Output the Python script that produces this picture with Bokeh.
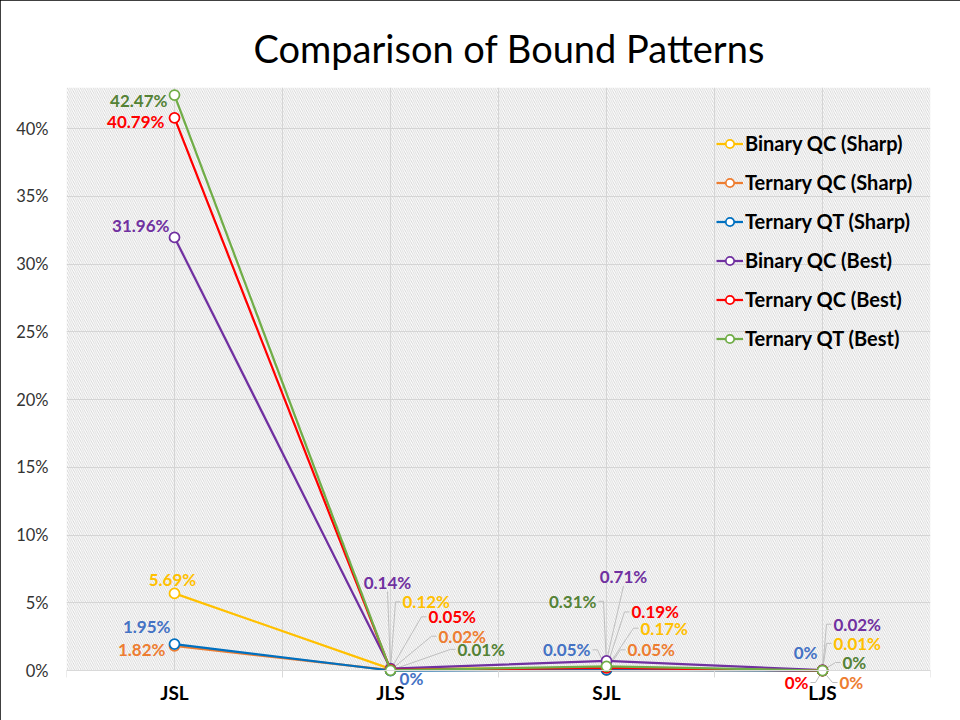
from bokeh.plotting import figure
from bokeh.models import (Range1d, FixedTicker, PrintfTickFormatter, BoxAnnotation,
                          ColumnDataSource, LabelSet)
from bokeh.core.properties import value
from bokeh.embed import file_html
from bokeh.resources import INLINE

# ---------------- data ----------------
categories = ["JSL", "JLS", "SJL", "LJS"]
series_names = ["Binary QC (Sharp)", "Ternary QC (Sharp)", "Ternary QT (Sharp)",
                "Binary QC (Best)", "Ternary QC (Best)", "Ternary QT (Best)"]
binary_qc_sharp = [5.69, 0.12, 0.17, 0.01]
ternary_qc_sharp = [1.82, 0.02, 0.05, 0.0]
ternary_qt_sharp = [1.95, 0.0, 0.05, 0.0]
binary_qc_best = [31.96, 0.14, 0.71, 0.02]
ternary_qc_best = [40.79, 0.05, 0.19, 0.0]
ternary_qt_best = [42.47, 0.01, 0.31, 0.0]
y_ticks = [0, 5, 10, 15, 20, 25, 30, 35, 40]

series_values = [binary_qc_sharp, ternary_qc_sharp, ternary_qt_sharp,
                 binary_qc_best, ternary_qc_best, ternary_qt_best]

# ---------------- styles / layout ----------------
line_colors = ["#FFC000", "#ED7D31", "#0070C0", "#7030A0", "#FF0000", "#70AD47"]
label_colors = ["#FFC000", "#ED7D31", "#4472C4", "#7030A0", "#FF0000", "#548235"]

# label placement per series per category: (dx px, dy px screen-down, align, leader)
label_layout = [
    [(-2, -14, "center", False), (12, -67, "left", True), (34, -40, "left", True), (11, -27, "left", True)],
    [(-9, 4, "right", False), (48, -34, "left", True), (21, -20, "left", True), (17, 12, "left", True)],
    [(-4, -18, "right", False), (21, 8, "center", False), (-16, -20, "right", True), (-5, -18, "right", False)],
    [(-5, -12, "right", False), (-3, -86, "center", True), (17, -84, "center", True), (11, -46, "left", True)],
    [(-10, 4, "right", False), (38, -53, "left", True), (25, -56, "left", True), (-14, 12, "right", True)],
    [(-7, 5, "right", False), (67, -21, "left", True), (-10, -65, "right", True), (20, -8, "left", True)],
]

FRAME_W = 864
PLOT_TOP = 87      # top of plotted area (px)
ZERO_Y = 670       # pixel row of 0%
FRAME_BOTTOM = 710 # frame extends below zero so labels under the axis stay visible
PX_PER_PCT = (ZERO_Y - 128) / 40.0
Y_MAX = (ZERO_Y - PLOT_TOP) / PX_PER_PCT
Y_MIN = -(FRAME_BOTTOM - ZERO_Y) / PX_PER_PCT
FRAME_H = FRAME_BOTTOM - PLOT_TOP
N = len(categories)
PX_X = FRAME_W / N
FONT = "Lato"

xs = [i + 0.5 for i in range(N)]

p = figure(frame_width=FRAME_W, frame_height=FRAME_H,
           x_range=Range1d(0, N), y_range=Range1d(Y_MIN, Y_MAX),
           output_backend="svg", toolbar_location=None,
           min_border_left=66, min_border_right=30, min_border_top=PLOT_TOP, min_border_bottom=10,
           title="Comparison of Bound Patterns",
           styles={"outline": "1px solid black", "outline-offset": "-1px"})

p.background_fill_color = "white"
p.border_fill_color = "white"
p.outline_line_color = None

p.title.align = "left"
p.title.offset = 187
p.title.text_font = FONT
p.title.text_font_size = "38px"
p.title.text_font_style = "normal"
p.title.text_color = "black"
p.title.standoff = 33

# hatched plot area (above zero only)
hatch = BoxAnnotation(bottom=0, fill_alpha=0, line_color=None, hatch_pattern="\\",
                      hatch_color="#cccccc", hatch_scale=4.3, hatch_weight=0.8,
                      level="underlay")
p.add_layout(hatch)

# grids (limited to the plotted area)
p.xgrid.ticker = FixedTicker(ticks=[i * 0.5 for i in range(2 * N + 1)])
p.xgrid.grid_line_color = "#d9d9d9"
p.xgrid.cross_bounds = (0, Y_MAX)
p.ygrid.ticker = FixedTicker(ticks=y_ticks)
p.ygrid.grid_line_color = "#d9d9d9"

# x axis drawn at 0%
p.xaxis.fixed_location = 0
p.xaxis.ticker = FixedTicker(ticks=xs, minor_ticks=list(range(N + 1)))
p.xaxis.major_label_overrides = {x: c for x, c in zip(xs, categories)}
p.xaxis.axis_line_color = "#d9d9d9"
p.xaxis.major_tick_line_color = None
p.xaxis.major_tick_out = 0
p.xaxis.minor_tick_line_color = "#d9d9d9"
p.xaxis.minor_tick_in = 0
p.xaxis.minor_tick_out = 7
p.xaxis.major_label_standoff = 3
p.xaxis.major_label_text_font = FONT
p.xaxis.major_label_text_font_size = "19px"
p.xaxis.major_label_text_font_style = "bold"
p.xaxis.major_label_text_color = "black"

# y axis
p.yaxis.ticker = FixedTicker(ticks=y_ticks)
p.yaxis.formatter = PrintfTickFormatter(format="%d%%")
p.yaxis.axis_line_color = None
p.yaxis.major_tick_line_color = None
p.yaxis.minor_tick_line_color = None
p.yaxis.major_tick_out = 0
p.yaxis.major_label_standoff = 18
p.yaxis.major_label_text_font = FONT
p.yaxis.major_label_text_font_size = "16.5px"
p.yaxis.major_label_text_color = "#333333"

# leader lines
lx, ly = [], []
for s, vals in enumerate(series_values):
    for i, v in enumerate(vals):
        dx, dy, align, leader = label_layout[s][i]
        if not leader:
            continue
        if align == "left":
            pts = [(dx - 2, dy), (dx - 7, dy), (0, 0)]
        elif align == "right":
            pts = [(dx + 2, dy), (dx + 7, dy), (0, 0)]
        else:
            pts = [(dx, dy + 9), (0, 0)]
        lx.append([xs[i] + px / PX_X for px, _ in pts])
        ly.append([v - py / PX_PER_PCT for _, py in pts])
p.multi_line(lx, ly, line_color="#bfbfbf", line_width=1)

# series
for s, (name, vals) in enumerate(zip(series_names, series_values)):
    src = ColumnDataSource(dict(x=xs, y=vals))
    p.line("x", "y", source=src, line_color=line_colors[s], line_width=2.25, legend_label=name)
    p.scatter("x", "y", source=src, marker="circle", size=10, fill_color="white",
              line_color=line_colors[s], line_width=1.75, legend_label=name)

# data labels
lab = dict(x=[], y=[], text=[], dx=[], dy=[], align=[], color=[])
for s, vals in enumerate(series_values):
    for i, v in enumerate(vals):
        dx, dy, align, _ = label_layout[s][i]
        lab["x"].append(xs[i])
        lab["y"].append(v)
        lab["text"].append(f"{v:g}%")
        lab["dx"].append(dx)
        lab["dy"].append(-dy)
        lab["align"].append(align)
        lab["color"].append(label_colors[s])
labels = LabelSet(x="x", y="y", text="text", x_offset="dx", y_offset="dy",
                  text_align="align", text_baseline="middle", text_color="color",
                  text_font=value(FONT), text_font_size="17px", text_font_style="bold",
                  source=ColumnDataSource(lab))
p.add_layout(labels)

# legend
lg = p.legend[0]
lg.location = (650, 360)
lg.padding = 0
lg.margin = 0
lg.border_line_color = None
lg.background_fill_alpha = 0
lg.glyph_width = 27
lg.glyph_height = 21
lg.label_height = 21
lg.spacing = 15
lg.label_standoff = 2
lg.label_text_font = FONT
lg.label_text_font_size = "20px"
lg.label_text_font_style = "bold"
lg.label_text_color = "black"

open("out.html", "w").write(file_html(p, INLINE))
